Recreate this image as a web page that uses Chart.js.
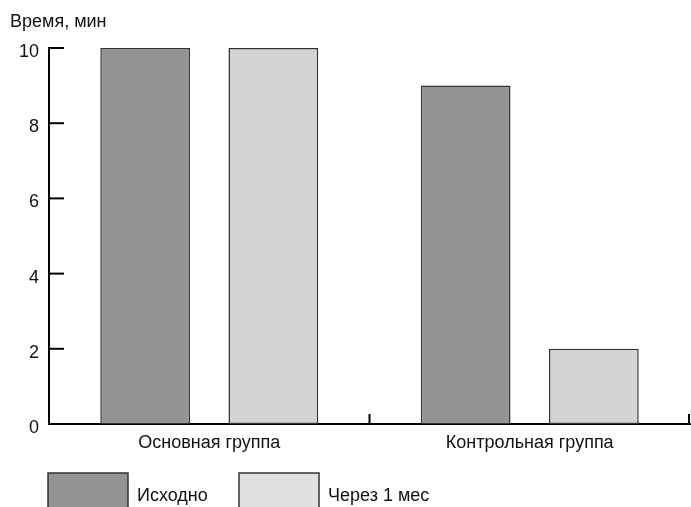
<!DOCTYPE html>
<html lang="ru">
<head>
    <meta charset="UTF-8">
    <title>Время, мин</title>
    <style>
        body {margin: 0; background: #fff; overflow: hidden;}
    </style>
    <script src="https://cdn.jsdelivr.net/npm/chart.js@4.4.1/dist/chart.umd.min.js"></script>
</head>
<body>
    <canvas id="barChart" width="691" height="507"></canvas>

    <script>
        // data
        const categories = ['Основная группа', 'Контрольная группа'];
        const seriesNames = ['Исходно', 'Через 1 мес'];
        const baselineValues = [10, 9];
        const monthValues = [10, 2];
        const yTicks = [0, 2, 4, 6, 8, 10];
        const axisTitle = 'Время, мин';

        const FONT = '"Liberation Sans", Arial, sans-serif';
        const colors = ['#939396', '#d3d4d6'];
        const legendColors = ['#939396', '#e0e1e3']; // legend swatch looks a bit lighter

        // ticks drawn inside the axes, title and legend
        const extras = {
            id: 'extras',
            afterDraw(chart) {
                const c = chart.ctx;
                const area = chart.chartArea;
                const x = chart.scales.x;
                const y = chart.scales.y;
                c.save();
                c.strokeStyle = '#000';
                c.lineWidth = 2;
                yTicks.forEach(v => {
                    const py = y.getPixelForValue(v);
                    c.beginPath();
                    c.moveTo(area.left, py);
                    c.lineTo(area.left + 15, py);
                    c.stroke();
                });
                // small upward ticks at category boundaries
                const step = x.getPixelForValue(1) - x.getPixelForValue(0);
                for (let i = 1; i <= categories.length; i++) {
                    const px = Math.min(x.getPixelForValue(0) - step / 2 + i * step, area.right - 1);
                    c.beginPath();
                    c.moveTo(px, area.bottom);
                    c.lineTo(px, area.bottom - 10);
                    c.stroke();
                }

                c.fillStyle = '#111';
                c.font = '18px ' + FONT;
                c.textBaseline = 'middle';
                c.textAlign = 'left';
                c.fillText(axisTitle, 10, 22);

                // legend (cut off at the bottom like the original)
                const boxX = [48, 239];
                chart.data.datasets.forEach((ds, i) => {
                    c.fillStyle = legendColors[i];
                    c.fillRect(boxX[i], 473, 80, 40);
                    c.lineWidth = 1.5;
                    c.strokeStyle = '#333';
                    c.strokeRect(boxX[i], 473, 80, 40);
                    c.fillStyle = '#111';
                    c.fillText(ds.label, boxX[i] + 89, 496);
                });
                c.restore();
            }
        };

        new Chart(document.getElementById('barChart'), {
            type: 'bar',
            data: {
                labels: categories,
                datasets: [
                    {label: seriesNames[0], data: baselineValues, backgroundColor: colors[0]},
                    {label: seriesNames[1], data: monthValues, backgroundColor: colors[1]}
                ]
            },
            options: {
                responsive: false,
                animation: false,
                layout: {padding: {top: 48, right: 1, left: 0, bottom: 0}},
                datasets: {
                    bar: {
                        categoryPercentage: 0.8,
                        barPercentage: 0.7,
                        borderWidth: 1.5,
                        borderColor: '#333',
                        borderSkipped: false
                    }
                },
                plugins: {
                    legend: {display: false},
                    tooltip: {enabled: false}
                },
                scales: {
                    x: {
                        grid: {display: false, drawTicks: false},
                        border: {display: true, color: '#000', width: 2},
                        ticks: {color: '#111', font: {family: FONT, size: 18}, padding: 8},
                        afterFit(s) { s.height = 83; }
                    },
                    y: {
                        min: 0,
                        max: 10,
                        grid: {display: false, drawTicks: false},
                        border: {display: true, color: '#000', width: 2},
                        ticks: {
                            stepSize: 2,
                            color: '#111',
                            font: {family: FONT, size: 18},
                            padding: 10,
                            labelOffset: 4
                        },
                        afterFit(s) { s.width = 49; }
                    }
                }
            },
            plugins: [extras]
        });
    </script>
</body>
</html>
